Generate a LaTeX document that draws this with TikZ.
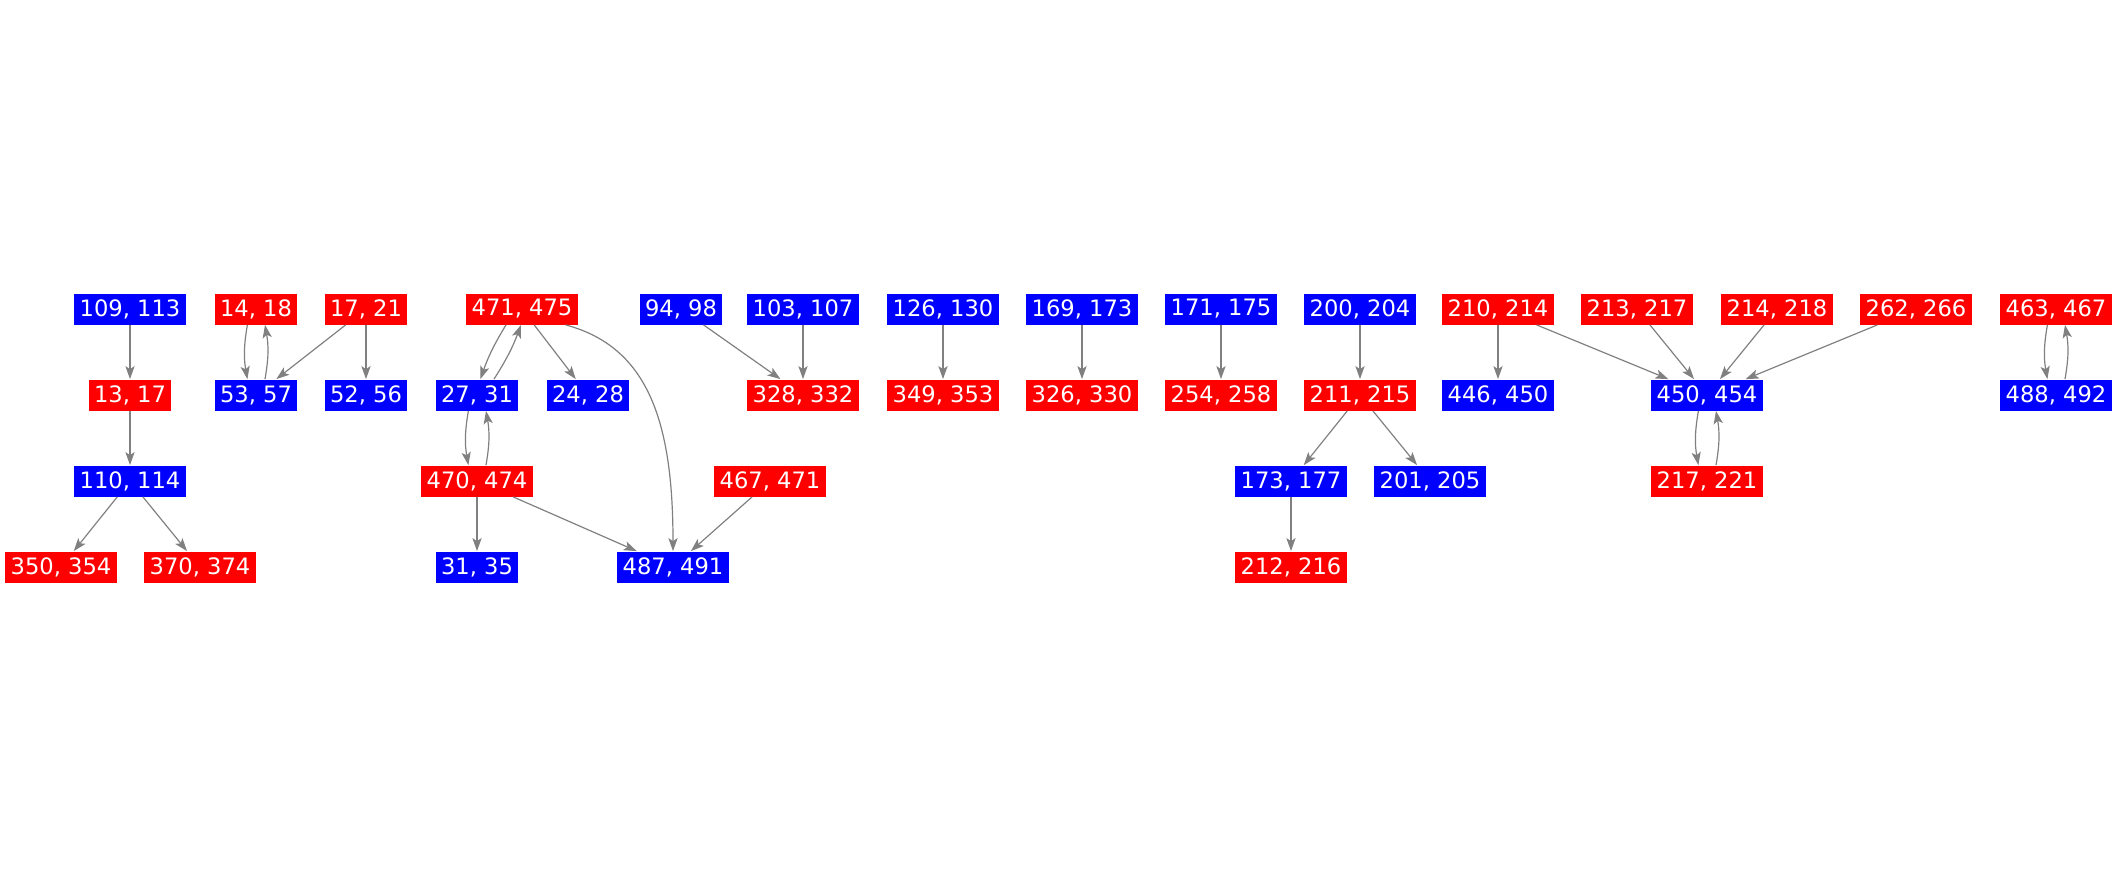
\documentclass[tikz,border=0pt]{standalone}
\usepackage{fontspec}
\setmainfont{DejaVu Sans}
\usetikzlibrary{arrows.meta}
\definecolor{nodered}{RGB}{255,0,0}
\definecolor{nodeblue}{RGB}{0,0,255}
\definecolor{edgegray}{RGB}{128,128,128}

\begin{document}
\begin{tikzpicture}[x=.5pt,y=.5pt,
    every node/.style={font=\fontsize{11.3}{13}\selectfont,text=white,minimum height=15.5pt,inner xsep=2.6pt,inner ysep=0pt},
    rbox/.style={fill=nodered},
    bbox/.style={fill=nodeblue},
    edge/.style={draw=edgegray,line width=.6pt,-{Stealth[length=6.5pt,width=4.6pt,inset=1.5pt]}}]
    \useasboundingbox (0,0) rectangle (2117,-875);
    % top row
    \node[bbox] (n109) at (130,-309) {109, 113};
    \node[rbox] (n14) at (256,-309) {14, 18};
    \node[rbox] (n17) at (366,-309) {17, 21};
    \node[rbox] (n471) at (522,-309) {471, 475};
    \node[bbox] (n94) at (681,-309) {94, 98};
    \node[bbox] (n103) at (803,-309) {103, 107};
    \node[bbox] (n126) at (943,-309) {126, 130};
    \node[bbox] (n169) at (1082,-309) {169, 173};
    \node[bbox] (n171) at (1221,-309) {171, 175};
    \node[bbox] (n200) at (1360,-309) {200, 204};
    \node[rbox] (n210) at (1498,-309) {210, 214};
    \node[rbox] (n213) at (1637,-309) {213, 217};
    \node[rbox] (n214) at (1777,-309) {214, 218};
    \node[rbox] (n262) at (1916,-309) {262, 266};
    \node[rbox] (n463) at (2056,-309) {463, 467};
    % second row
    \node[rbox] (n13) at (130,-395) {13, 17};
    \node[bbox] (n53) at (256,-395) {53, 57};
    \node[bbox] (n52) at (366,-395) {52, 56};
    \node[bbox] (n27) at (477,-395) {27, 31};
    \node[bbox] (n24) at (588,-395) {24, 28};
    \node[rbox] (n328) at (803,-395) {328, 332};
    \node[rbox] (n349) at (943,-395) {349, 353};
    \node[rbox] (n326) at (1082,-395) {326, 330};
    \node[rbox] (n254) at (1221,-395) {254, 258};
    \node[rbox] (n211) at (1360,-395) {211, 215};
    \node[bbox] (n446) at (1498,-395) {446, 450};
    \node[bbox] (n450) at (1707,-395) {450, 454};
    \node[bbox] (n488) at (2056,-395) {488, 492};
    % third row
    \node[bbox] (n110) at (130,-481) {110, 114};
    \node[rbox] (n470) at (477,-481) {470, 474};
    \node[rbox] (n467) at (770,-481) {467, 471};
    \node[bbox] (n173) at (1291,-481) {173, 177};
    \node[bbox] (n201) at (1430,-481) {201, 205};
    \node[rbox] (n217) at (1707,-481) {217, 221};
    % bottom row
    \node[rbox] (n350) at (61,-567) {350, 354};
    \node[rbox] (n370) at (200,-567) {370, 374};
    \node[bbox] (n31) at (477,-567) {31, 35};
    \node[bbox] (n487) at (673,-567) {487, 491};
    \node[rbox] (n212) at (1291,-567) {212, 216};

    \draw[edge] (n109) -- (n13);
    \draw[edge] (n13) -- (n110);
    \draw[edge] (n110) -- (n350);
    \draw[edge] (n110) -- (n370);
    \draw[edge] ([xshift=-4.3pt]n14.south) to[bend right=10] ([xshift=-4.3pt]n53.north);
    \draw[edge] ([xshift=4.5pt]n53.north) to[bend right=10] ([xshift=4.5pt]n14.south);
    \draw[edge] (n17) -- (n53);
    \draw[edge] (n17) -- (n52);
    \draw[edge] ([xshift=-8pt]n471.south) to[bend right=6] ([xshift=1.7pt]n27.north);
    \draw[edge] ([xshift=8.5pt]n27.north) to[bend right=6] ([xshift=-.5pt]n471.south);
    \draw[edge] (n471) -- (n24);
    \draw[edge] (n471.-20) .. controls +(-15:85) and +(90:130) .. (n487.north);
    \draw[edge] ([xshift=-4.3pt]n27.south) to[bend right=10] ([xshift=-4.3pt]n470.north);
    \draw[edge] ([xshift=4.5pt]n470.north) to[bend right=10] ([xshift=4.5pt]n27.south);
    \draw[edge] (n470) -- (n31);
    \draw[edge] (n470) -- (n487);
    \draw[edge] (n467) -- (n487);
    \draw[edge] (n94) -- (n328);
    \draw[edge] (n103) -- (n328);
    \draw[edge] (n126) -- (n349);
    \draw[edge] (n169) -- (n326);
    \draw[edge] (n171) -- (n254);
    \draw[edge] (n200) -- (n211);
    \draw[edge] (n211) -- (n173);
    \draw[edge] (n211) -- (n201);
    \draw[edge] (n173) -- (n212);
    \draw[edge] (n210) -- (n446);
    \draw[edge] (n210) -- (n450);
    \draw[edge] (n213) -- (n450);
    \draw[edge] (n214) -- (n450);
    \draw[edge] (n262) -- (n450);
    \draw[edge] ([xshift=-4.3pt]n450.south) to[bend right=10] ([xshift=-4.3pt]n217.north);
    \draw[edge] ([xshift=4.5pt]n217.north) to[bend right=10] ([xshift=4.5pt]n450.south);
    \draw[edge] ([xshift=-4.3pt]n463.south) to[bend right=10] ([xshift=-4.3pt]n488.north);
    \draw[edge] ([xshift=4.5pt]n488.north) to[bend right=10] ([xshift=4.5pt]n463.south);
\end{tikzpicture}
\end{document}
